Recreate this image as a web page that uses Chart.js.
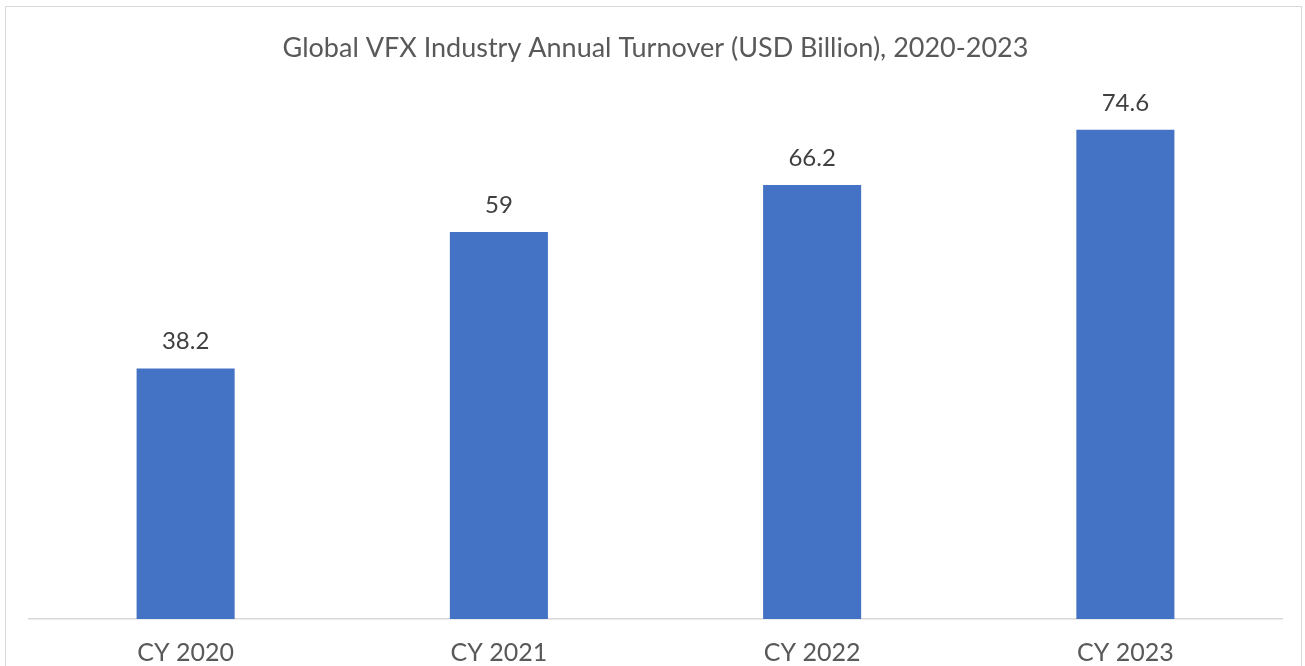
<!DOCTYPE html>
<html>
<head>
<meta charset="utf-8">
<script src="https://cdn.jsdelivr.net/npm/chart.js@4/dist/chart.umd.min.js"></script>
<style>
  html, body { margin: 0; padding: 0; background: #ffffff; }
  #wrap { position: relative; width: 1305px; height: 666px; overflow: hidden; }
  #frame { position: absolute; left: 5px; top: 6px; width: 1297px; height: 700px; border: 1px solid #d9d9d9; box-sizing: border-box; }
  canvas { position: absolute; left: 0; top: 0; }
</style>
</head>
<body>
<div id="wrap">
  <div id="frame"></div>
  <canvas id="c" width="1305" height="666"></canvas>
</div>
<script>
const categories = ["CY 2020", "CY 2021", "CY 2022", "CY 2023"];
const turnover = [38.2, 59, 66.2, 74.6];
const valueLabels = ["38.2", "59", "66.2", "74.6"];
const chartTitle = "Global VFX Industry Annual Turnover (USD Billion), 2020-2023";

const FONT = "Lato, 'Open Sans', sans-serif";

const valueLabelPlugin = {
  id: 'valueLabels',
  afterDatasetsDraw(chart) {
    const ctx = chart.ctx;
    const meta = chart.getDatasetMeta(0);
    ctx.save();
    ctx.font = "24px " + FONT;
    ctx.fillStyle = "#404040";
    ctx.textAlign = "center";
    ctx.textBaseline = "middle";
    meta.data.forEach((bar, i) => {
      ctx.fillText(valueLabels[i], bar.x, bar.y - 27);
    });
    ctx.restore();
  }
};

new Chart(document.getElementById('c'), {
  type: 'bar',
  data: {
    labels: categories,
    datasets: [{
      data: turnover,
      backgroundColor: '#4472C4',
      borderWidth: 0,
      barPercentage: 0.313,
      categoryPercentage: 1.0
    }]
  },
  options: {
    responsive: false,
    animation: false,
    devicePixelRatio: 1,
    layout: { padding: { top: 32, left: 29, right: 23, bottom: 0 } },
    plugins: {
      legend: { display: false },
      tooltip: { enabled: false },
      title: {
        display: true,
        text: chartTitle,
        color: '#595959',
        font: { family: FONT, size: 27, weight: 'normal' },
        padding: { top: 0, bottom: 30 }
      }
    },
    scales: {
      x: {
        grid: { display: false, drawTicks: false },
        border: { display: true, color: '#d9d9d9', width: 1.5 },
        ticks: { color: '#595959', font: { family: FONT, size: 25 }, padding: 19 },
        afterFit(scale) { scale.height = 47; }
      },
      y: {
        display: false,
        min: 0,
        max: 80
      }
    }
  },
  plugins: [valueLabelPlugin]
});
</script>
</body>
</html>
